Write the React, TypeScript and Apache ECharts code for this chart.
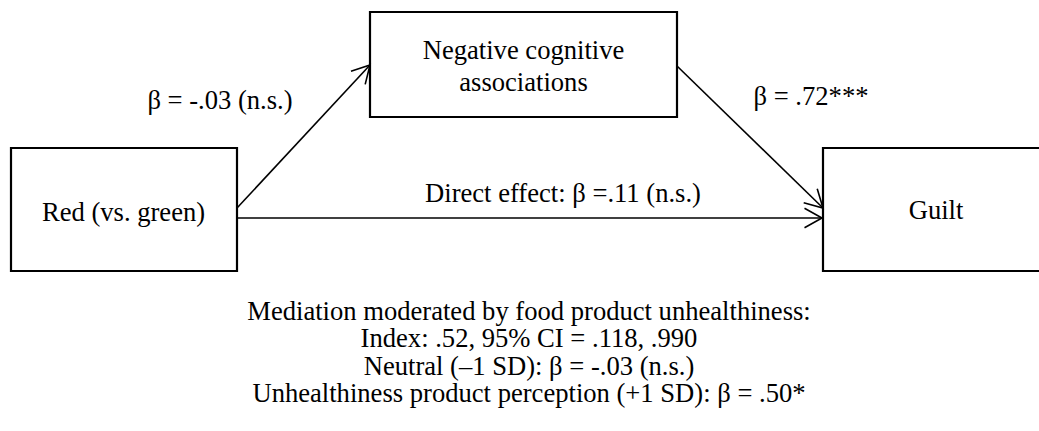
import React, { useEffect, useRef } from "react";
import * as echarts from "echarts";

// ---- Diagram content ----
const nodeLabels: string[] = ["Red (vs. green)", "Negative cognitive\nassociations", "Guilt"];
const pathLabels: string[] = ["β = -.03 (n.s.)", "β = .72***", "Direct effect: β =.11 (n.s.)"];
const noteLines: string[] = [
  "Mediation moderated by food product unhealthiness:",
  "Index: .52, 95% CI = .118, .990",
  "Neutral (–1 SD): β = -.03 (n.s.)",
  "Unhealthiness product perception (+1 SD): β = .50*",
];

// ---- Layout (pixels) ----
const W = 1039;
const H = 431;
const FONT = "'Liberation Serif', 'Times New Roman', serif";
const FS = 26.6;

const boxes = [
  { x: 11, y: 148, w: 226, h: 123, tx: 123.5, ty: 212 },
  { x: 370, y: 12, w: 307, h: 105, tx: 523.5, ty: 66 },
  { x: 823, y: 148, w: 240, h: 123, tx: 936, ty: 210 },
];

const arrows = [
  { x1: 237, y1: 208, x2: 370, y2: 65 },
  { x1: 677, y1: 66, x2: 823, y2: 208 },
  { x1: 237, y1: 218, x2: 822, y2: 218 },
];

const pathLabelPos = [
  { x: 220, y: 100 },
  { x: 811, y: 96 },
  { x: 563, y: 193 },
];

const noteCenter = { x: 529, y: 311, dy: 27.4 };

function arrowHead(a: { x1: number; y1: number; x2: number; y2: number }) {
  const ang = Math.atan2(a.y2 - a.y1, a.x2 - a.x1);
  const len = 20;
  const half = (29 * Math.PI) / 180;
  const p1 = [a.x2 - len * Math.cos(ang - half), a.y2 - len * Math.sin(ang - half)];
  const p2 = [a.x2 - len * Math.cos(ang + half), a.y2 - len * Math.sin(ang + half)];
  return [p1, [a.x2, a.y2], p2];
}

export default function App() {
  const ref = useRef<HTMLDivElement>(null);
  useEffect(() => {
    if (!ref.current) return;
    const chart = echarts.init(ref.current, undefined, { renderer: "svg" });
    const elements: any[] = [];

    boxes.forEach((b, i) => {
      elements.push({
        type: "rect",
        shape: { x: b.x, y: b.y, width: b.w, height: b.h },
        style: { fill: "#fff", stroke: "#000", lineWidth: 2.2 },
        z: 1,
      });
      elements.push({
        type: "text",
        x: b.tx,
        y: b.ty,
        style: {
          text: nodeLabels[i],
          fill: "#000",
          font: `${FS}px ${FONT}`,
          textAlign: "center",
          textVerticalAlign: "middle",
          lineHeight: 32,
        },
        z: 3,
      });
    });

    arrows.forEach((a) => {
      elements.push({
        type: "line",
        shape: { x1: a.x1, y1: a.y1, x2: a.x2, y2: a.y2 },
        style: { stroke: "#000", lineWidth: 1.6 },
        z: 2,
      });
      elements.push({
        type: "polyline",
        shape: { points: arrowHead(a) },
        style: { stroke: "#000", lineWidth: 1.6, fill: null },
        z: 2,
      });
    });

    pathLabels.forEach((t, i) => {
      elements.push({
        type: "text",
        x: pathLabelPos[i].x,
        y: pathLabelPos[i].y,
        style: {
          text: t,
          fill: "#000",
          font: `${FS}px ${FONT}`,
          textAlign: "center",
          textVerticalAlign: "middle",
        },
        z: 3,
      });
    });

    noteLines.forEach((t, i) => {
      elements.push({
        type: "text",
        x: noteCenter.x,
        y: noteCenter.y + i * noteCenter.dy,
        style: {
          text: t,
          fill: "#000",
          font: `${FS}px ${FONT}`,
          textAlign: "center",
          textVerticalAlign: "middle",
        },
        z: 3,
      });
    });

    chart.setOption({
      animation: false,
      backgroundColor: "#fff",
      graphic: { elements },
    });
    return () => chart.dispose();
  }, []);
  return (
    <div
      ref={ref}
      style={{ position: "fixed", left: 0, top: 0, width: W, height: H, background: "#fff" }}
    />
  );
}
